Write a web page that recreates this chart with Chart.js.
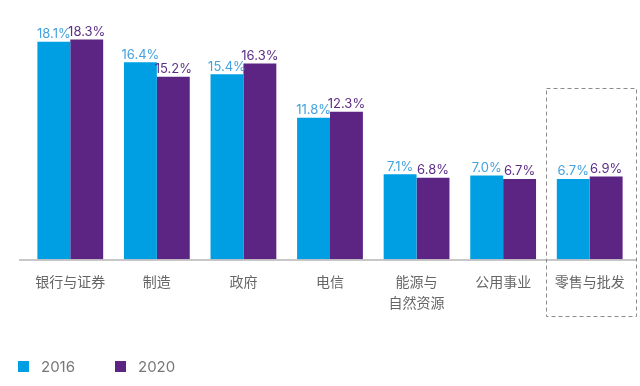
<!DOCTYPE html>
<html>
<head>
<meta charset="utf-8">
<script src="https://cdn.jsdelivr.net/npm/chart.js@4"></script>
<style>
  html, body { margin: 0; padding: 0; background: #fff; }
  #wrap { width: 640px; height: 386px; }
</style>
</head>
<body>
<div id="wrap"><canvas id="chart" width="640" height="386"></canvas></div>
<script>
'use strict';

let categories = ['银行与证券', '制造', '政府', '电信', ['能源与', '自然资源'], '公用事业', '零售与批发'];
let values2016 = [18.1, 16.4, 15.4, 11.8, 7.1, 7.0, 6.7];
let values2020 = [18.3, 15.2, 16.3, 12.3, 6.8, 6.7, 6.9];
let seriesNames = ['2016', '2020'];

let barColors = ['#009FE3', '#5C2483'];
let labelColors = ['#45A2DE', '#5C2E86'];
let numFont = 'Inter, "Noto Sans", sans-serif';
let cjkFont = '"Noto Sans CJK SC", sans-serif';

// value labels, axis line, dashed highlight box and legend
let extras = {
  id: 'extras',
  afterDatasetsDraw(chart) {
    let ctx = chart.ctx;
    let area = chart.chartArea;
    let x = chart.scales.x;
    let y = chart.scales.y;

    ctx.save();
    // baseline
    ctx.strokeStyle = '#b4b4b4';
    ctx.lineWidth = 1.5;
    ctx.beginPath();
    ctx.moveTo(area.left - 8, area.bottom + 0.5);
    ctx.lineTo(area.right + 3, area.bottom + 0.5);
    ctx.stroke();

    // value labels
    ctx.font = '13px ' + numFont;
    ctx.textAlign = 'center';
    ctx.textBaseline = 'bottom';
    chart.data.datasets.forEach(function (ds, i) {
      let meta = chart.getDatasetMeta(i);
      meta.data.forEach(function (bar, j) {
        ctx.fillStyle = labelColors[i];
        ctx.fillText(ds.data[j].toFixed(1) + '%', bar.x, bar.y - 1);
      });
    });

    // dashed box around last category
    let cx = x.getPixelForValue(categories.length - 1);
    let top = y.getPixelForValue(14.3);
    ctx.strokeStyle = '#8c8c8c';
    ctx.lineWidth = 1;
    ctx.setLineDash([4, 3]);
    ctx.strokeRect(Math.round(cx - 44) + 0.5, Math.round(top) + 0.5, 90, area.bottom + 56 - top);
    ctx.setLineDash([]);

    // legend
    ctx.font = '15px ' + numFont;
    ctx.textAlign = 'left';
    ctx.textBaseline = 'middle';
    let lx = 18;
    chart.data.datasets.forEach(function (ds, i) {
      ctx.fillStyle = barColors[i];
      ctx.fillRect(lx, 361, 11, 11);
      ctx.fillStyle = '#777777';
      ctx.fillText(ds.label, lx + 23, 367);
      lx += 97;
    });
    ctx.restore();
  }
};

let chartData = {
  type: 'bar',
  data: {
    labels: categories,
    datasets: [{
      label: seriesNames[0],
      data: values2016,
      backgroundColor: barColors[0]
    }, {
      label: seriesNames[1],
      data: values2020,
      backgroundColor: barColors[1]
    }]
  },
  options: {
    responsive: false,
    animation: false,
    layout: {
      padding: { left: 27, right: 7, top: 19, bottom: 61 }
    },
    datasets: {
      bar: {
        categoryPercentage: 0.76,
        barPercentage: 1
      }
    },
    plugins: {
      legend: { display: false },
      tooltip: { enabled: false }
    },
    scales: {
      x: {
        grid: { display: false, drawTicks: false },
        border: { display: false },
        ticks: {
          color: '#666666',
          padding: 11,
          maxRotation: 0,
          autoSkip: false,
          font: {
            family: cjkFont,
            size: 14,
            lineHeight: 1.55
          }
        }
      },
      y: {
        display: false,
        min: 0,
        max: 20
      }
    }
  },
  plugins: [extras]
};

let ctx = document.getElementById('chart');
new Chart(ctx, chartData);
</script>
</body>
</html>
